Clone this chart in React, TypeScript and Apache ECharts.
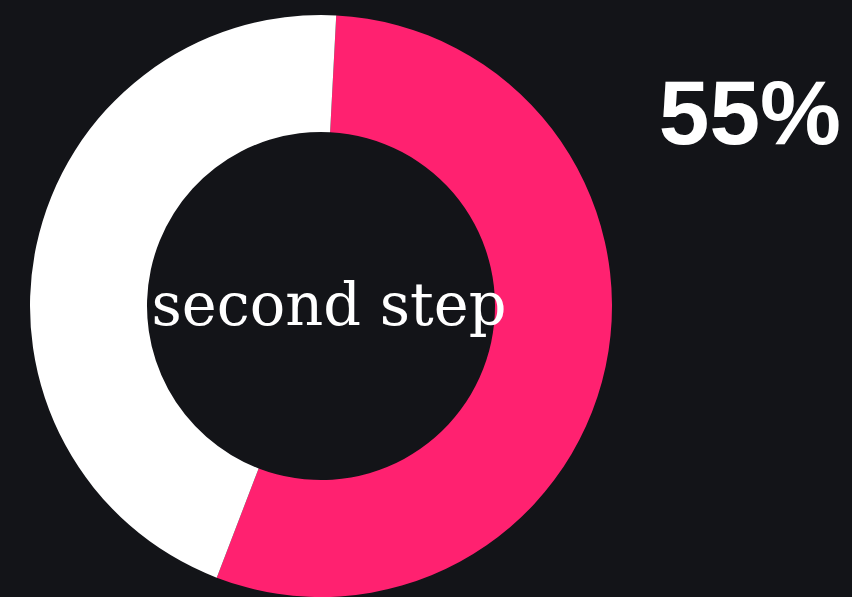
import React, { useEffect, useRef } from "react";
import * as echarts from "echarts";

const stepLabel = "second step";
const segmentNames = ["done", "remaining"];
const segmentValues = [55, 45];
const segmentColors = ["#FF2170", "#FFFFFF"];

export default function App() {
  const ref = useRef<HTMLDivElement>(null);
  useEffect(() => {
    if (!ref.current) return;
    const chart = echarts.init(ref.current, null, { renderer: "svg" });
    const total = segmentValues.reduce((a, b) => a + b, 0);
    const pct = Math.round((segmentValues[0] / total) * 100);
    chart.setOption({
      animation: false,
      backgroundColor: "#131418",
      title: {
        text: pct + "%",
        right: 6,
        top: 62,
        textStyle: {
          color: "#FFFFFF",
          fontSize: 91,
          fontWeight: "bold",
          fontFamily: "Liberation Sans, Arial, sans-serif",
        },
      },
      graphic: [
        {
          type: "text",
          x: 329,
          y: 304,
          style: {
            text: stepLabel,
            fill: "#FFFFFF",
            fontSize: 59,
            fontFamily: "DejaVu Serif, serif",
            textAlign: "center",
            textVerticalAlign: "middle",
          },
          z: 10,
        },
      ],
      series: [
        {
          type: "pie",
          center: [321, 306],
          radius: [174, 291],
          startAngle: 87,
          clockwise: true,
          label: { show: false },
          labelLine: { show: false },
          emphasis: { disabled: true },
          silent: true,
          data: segmentValues.map((v, i) => ({
            name: segmentNames[i],
            value: v,
            itemStyle: { color: segmentColors[i] },
          })),
        },
      ],
    });
    return () => chart.dispose();
  }, []);
  return (
    <div
      ref={ref}
      style={{ position: "absolute", left: 0, top: 0, width: 852, height: 597 }}
    />
  );
}
